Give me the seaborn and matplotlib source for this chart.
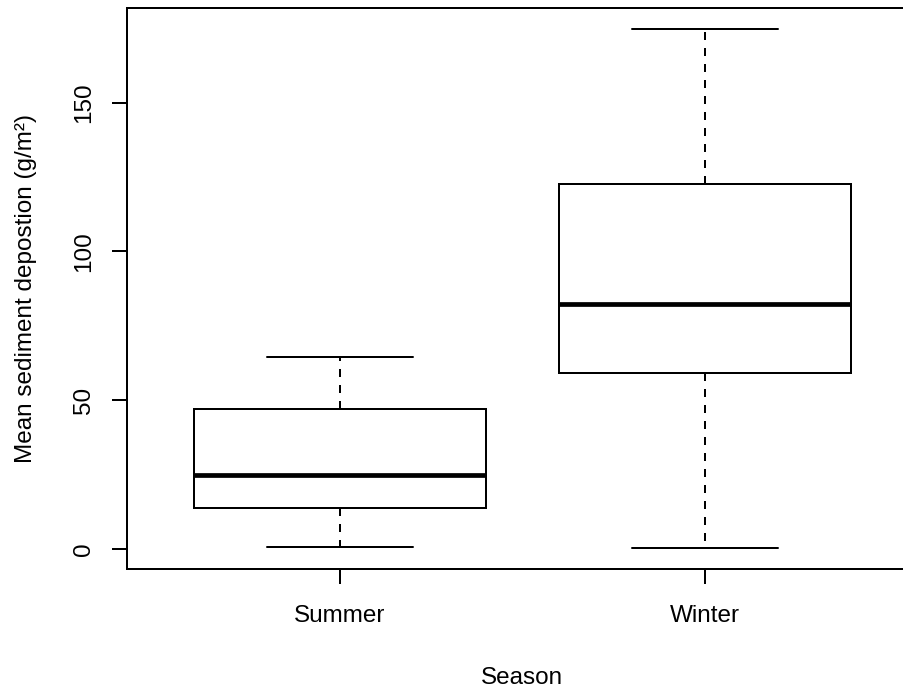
import numpy as np
import pandas as pd
import matplotlib
matplotlib.use("Agg")
import matplotlib.pyplot as plt
import seaborn as sns

# Five-number summaries per season (min, Q1, median, Q3, max), g/m²
seasons = ["Summer", "Winter"]
summer_vals = [0.7, 13.8, 24.8, 46.9, 64.4]
winter_vals = [0.2, 59.1, 82.2, 122.6, 174.7]
yticks = [0, 50, 100, 150]

df = pd.DataFrame({
    "Season": ["Summer"] * len(summer_vals) + ["Winter"] * len(winter_vals),
    "Deposition": summer_vals + winter_vals,
})

sns.set_theme(style="white")
plt.rcParams["font.family"] = ["Liberation Sans", "DejaVu Sans"]

W, H, DPI = 904, 688, 100
fig = plt.figure(figsize=(W / DPI, H / DPI), dpi=DPI)
left, right, top, bottom = 127.3, 917.0, 8.3, 569.3
ax = fig.add_axes([left / W, (H - bottom) / H, (right - left) / W, (bottom - top) / H])

lw = 1.44
sns.boxplot(
    data=df, x="Season", y="Deposition", order=seasons, ax=ax,
    width=0.8, color="white", linecolor="black", linewidth=lw,
    whis=np.inf, showfliers=False,
    medianprops=dict(color="black", linewidth=3.4, solid_capstyle="butt"),
    whiskerprops=dict(color="black", linewidth=lw, linestyle=(0, (4, 4))),
    capprops=dict(color="black", linewidth=lw),
    boxprops=dict(edgecolor="black", facecolor="white", linewidth=lw),
)

ax.set_xlim(-0.582, 1.582)
ax.set_ylim(-6.93, 181.7)
ax.set_yticks(yticks)
ax.set_yticklabels([str(v) for v in yticks])

for s in ax.spines.values():
    s.set_visible(True)
    s.set_color("black")
    s.set_linewidth(lw)

fs = 17.5
ax.tick_params(axis="both", which="major", direction="out", length=10.6, width=lw,
               color="black", labelsize=fs, labelcolor="black", left=True, bottom=True)
ax.tick_params(axis="x", pad=15)
ax.tick_params(axis="y", pad=12.5)
for lab in ax.get_yticklabels():
    lab.set_rotation(90)
    lab.set_va("center")

ax.set_xlabel("Season", fontsize=fs, color="black", labelpad=29)
ax.set_ylabel("Mean sediment depostion (g/m²)", fontsize=fs, color="black", labelpad=26)

fig.savefig("out.png", dpi=DPI, facecolor="white")
